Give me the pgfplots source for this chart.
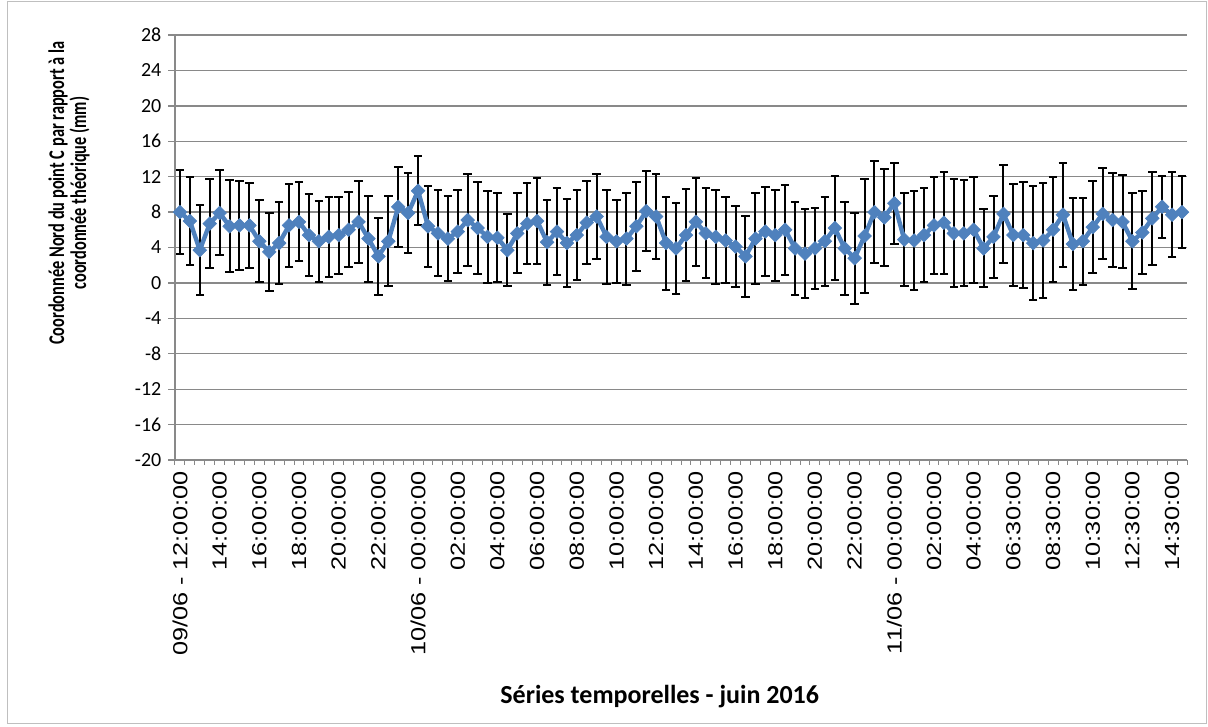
\documentclass[border=0pt]{standalone}
\usepackage{fontspec}
\setmainfont{Carlito}
\newfontfamily\xtickfont[FakeStretch=1.24]{Liberation Sans}
\newfontfamily\ylabfont[FakeStretch=0.73]{Carlito}
\usepackage{pgfplots}
\usepackage{pgfplotstable}
\pgfplotsset{compat=1.18}
\definecolor{serblue}{HTML}{4F81BD}
\definecolor{gridgray}{HTML}{898989}

\pgfplotstableread{
x y e
0 8.0 4.7
1 7.0 5.0
2 3.7 5.1
3 6.7 5.0
4 7.9 4.8
5 6.4 5.2
6 6.5 5.0
7 6.5 4.8
8 4.7 4.65
9 3.5 4.4
10 4.5 4.65
11 6.5 4.65
12 6.9 4.45
13 5.4 4.6
14 4.7 4.6
15 5.2 4.55
16 5.4 4.35
17 6.0 4.25
18 6.9 4.65
19 5.0 4.85
20 3.0 4.35
21 4.7 5.1
22 8.6 4.5
23 7.9 4.55
24 10.4 3.9
25 6.4 4.6
26 5.6 4.85
27 5.0 4.8
28 5.8 4.7
29 7.1 5.2
30 6.2 5.2
31 5.2 5.2
32 5.1 5.0
33 3.7 4.05
34 5.6 4.5
35 6.7 4.6
36 7.0 4.85
37 4.6 4.8
38 5.8 4.9
39 4.5 4.95
40 5.4 5.05
41 6.8 4.7
42 7.5 4.85
43 5.2 5.35
44 4.7 4.7
45 5.0 5.2
46 6.4 5.0
47 8.1 4.5
48 7.5 4.75
49 4.5 5.25
50 3.9 5.1
51 5.4 5.2
52 6.9 4.95
53 5.6 5.1
54 5.2 5.3
55 4.8 4.85
56 4.1 4.55
57 3.0 4.55
58 5.0 5.15
59 5.8 5.0
60 5.4 5.15
61 6.0 5.05
62 3.9 5.25
63 3.3 5.05
64 3.9 4.6
65 4.7 5.05
66 6.2 5.85
67 3.9 5.25
68 2.8 5.15
69 5.3 6.4
70 8.0 5.8
71 7.4 5.45
72 9.0 4.6
73 4.9 5.25
74 4.8 5.55
75 5.4 5.3
76 6.5 5.5
77 6.8 5.75
78 5.6 6.1
79 5.6 6.0
80 6.0 6.0
81 3.9 4.4
82 5.2 4.6
83 7.8 5.55
84 5.4 5.8
85 5.4 5.95
86 4.5 6.4
87 4.8 6.5
88 6.0 5.95
89 7.7 5.9
90 4.4 5.15
91 4.7 4.9
92 6.3 5.2
93 7.8 5.15
94 7.1 5.35
95 6.9 5.25
96 4.7 5.4
97 5.7 4.65
98 7.3 5.25
99 8.6 3.5
100 7.7 4.8
101 8.0 4.05
}\datatable

\begin{document}
\begin{tikzpicture}
\useasboundingbox (-131.25pt,-199.5pt) rectangle (774.75pt,345pt);
\draw[gray!50, line width=0.75pt] (-125.25pt,-197.5pt) rectangle (773.25pt,343.5pt);
\begin{axis}[
  at={(0pt,0pt)}, anchor=south west,
  scale only axis, width=759pt, height=318.75pt,
  xmin=-0.5, xmax=101.5, ymin=-20, ymax=28,
  axis x line*=bottom, axis y line*=left,
  axis line style={-, gridgray, line width=1pt},
  every outer x axis line/.append style={-},
  every outer y axis line/.append style={-},
  tick align=outside,
  major tick length=5.25pt,
  minor tick length=3.5pt,
  ytick={-20,-16,...,28},
  yticklabels={-20,-16,-12,-8,-4,0,4,8,12,16,20,24,28},
  yticklabel style={font=\fontsize{15}{16}\selectfont, xshift=-1.5pt},
  every major y tick/.append style={gridgray, line width=1pt},
  ymajorgrids,
  grid style={gridgray, line width=1pt},
  xtick={0,4,...,100},
  xticklabels={09/06 - 12:00:00,14:00:00,16:00:00,18:00:00,20:00:00,22:00:00,10/06 - 00:00:00,02:00:00,04:00:00,06:00:00,08:00:00,10:00:00,12:00:00,14:00:00,16:00:00,18:00:00,20:00:00,22:00:00,11/06 - 00:00:00,02:00:00,04:00:00,06:30:00,08:30:00,10:30:00,12:30:00,14:30:00},
  every major x tick/.append style={draw=none},
  minor xtick={-0.5,0.5,...,101.5},
  every minor x tick/.append style={gridgray, line width=0.75pt},
  xticklabel style={rotate=90, anchor=east, font=\xtickfont\fontsize{15.3}{17}\selectfont},
  xlabel={Séries temporelles - juin 2016},
  xlabel style={font=\bfseries\fontsize{19.5}{22}\selectfont, at={(axis description cs:0.479,0)}, anchor=center, yshift=-177.75pt},
  ylabel={\ylabfont\bfseries Coordonnée Nord du point C par rapport à la\\\ylabfont\bfseries coordonnée théorique (mm)},
  ylabel style={align=center, font=\ylabfont\bfseries\fontsize{16.8}{16.5}\selectfont, at={(axis description cs:-0.1047,0.628)}, anchor=center},
]
\addplot[draw=none, mark=none, forget plot,
  error bars/.cd, y dir=both, y explicit,
  error bar style={black, line width=1.5pt},
  error mark options={black, line width=1.5pt, mark size=3.2pt, rotate=90}]
  table[x=x, y=y, y error=e] {\datatable};
\addplot[serblue, line width=3.3pt, mark=square*, mark size=3.6pt,
  mark options={rotate=45, fill=serblue, draw=serblue, line width=0.5pt}]
  table[x=x, y=y] {\datatable};
\end{axis}
\end{tikzpicture}
\end{document}
